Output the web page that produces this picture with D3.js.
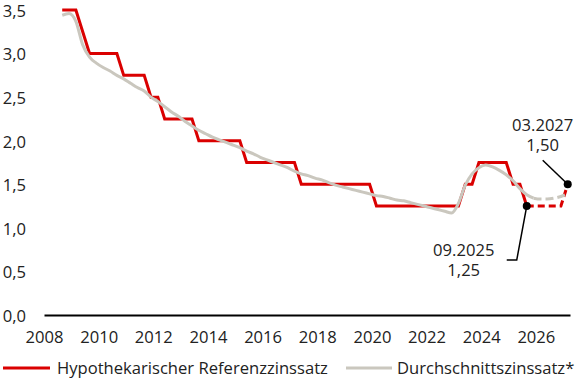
<!DOCTYPE html>
<html><head><meta charset="utf-8">
<script src="https://cdn.jsdelivr.net/npm/d3@7"></script>
<style>
html,body{margin:0;padding:0;background:#fff;}
svg{display:block;font-family:"Open Sans",sans-serif;}
</style></head><body>
<svg id="chart" width="580" height="380"></svg>
<script>
const quarters = [
  "2008-09","2008-12",
  "2009-03","2009-06","2009-09","2009-12",
  "2010-03","2010-06","2010-09","2010-12",
  "2011-03","2011-06","2011-09","2011-12",
  "2012-03","2012-06","2012-09","2012-12",
  "2013-03","2013-06","2013-09","2013-12",
  "2014-03","2014-06","2014-09","2014-12",
  "2015-03","2015-06","2015-09","2015-12",
  "2016-03","2016-06","2016-09","2016-12",
  "2017-03","2017-06","2017-09","2017-12",
  "2018-03","2018-06","2018-09","2018-12",
  "2019-03","2019-06","2019-09","2019-12",
  "2020-03","2020-06","2020-09","2020-12",
  "2021-03","2021-06","2021-09","2021-12",
  "2022-03","2022-06","2022-09","2022-12",
  "2023-03","2023-06","2023-09","2023-12",
  "2024-03","2024-06","2024-09","2024-12",
  "2025-03","2025-06","2025-09","2025-12",
  "2026-03","2026-06","2026-09","2026-12",
  "2027-03"
];
// Hypothekarischer Referenzzinssatz (%)
const refRate = [
  3.50, 3.50,
  3.50, 3.25, 3.00, 3.00,
  3.00, 3.00, 3.00, 2.75,
  2.75, 2.75, 2.75, 2.50,
  2.50, 2.25, 2.25, 2.25,
  2.25, 2.25, 2.00, 2.00,
  2.00, 2.00, 2.00, 2.00,
  2.00, 1.75, 1.75, 1.75,
  1.75, 1.75, 1.75, 1.75,
  1.75, 1.50, 1.50, 1.50,
  1.50, 1.50, 1.50, 1.50,
  1.50, 1.50, 1.50, 1.50,
  1.25, 1.25, 1.25, 1.25,
  1.25, 1.25, 1.25, 1.25,
  1.25, 1.25, 1.25, 1.25,
  1.25, 1.50, 1.50, 1.75,
  1.75, 1.75, 1.75, 1.75,
  1.50, 1.50, 1.25, 1.25,
  1.25, 1.25, 1.25, 1.25,
  1.50
];
// Durchschnittszinssatz* (%)
const avgRate = [
  3.44, 3.46,
  3.37, 3.10, 2.96, 2.89,
  2.84, 2.80, 2.75, 2.71,
  2.66, 2.61, 2.57, 2.50,
  2.45, 2.39, 2.33, 2.28,
  2.22, 2.17, 2.12, 2.08,
  2.04, 2.01, 1.98, 1.95,
  1.92, 1.88, 1.85, 1.81,
  1.78, 1.75, 1.72, 1.69,
  1.65, 1.62, 1.60, 1.57,
  1.55, 1.52, 1.49, 1.47,
  1.45, 1.43, 1.41, 1.39,
  1.37, 1.36, 1.34, 1.32,
  1.31, 1.29, 1.27, 1.25,
  1.23, 1.21, 1.19, 1.17,
  1.28, 1.49, 1.62, 1.69,
  1.72, 1.70, 1.66, 1.61,
  1.54, 1.45, 1.38, 1.34,
  1.33, 1.33, 1.34, 1.36,
  1.39
];
const refForecastFrom = "2025-09";
const avgForecastFrom = "2025-12";
const yTicks = [0, 0.5, 1.0, 1.5, 2.0, 2.5, 3.0, 3.5];
const xTicks = [2008, 2010, 2012, 2014, 2016, 2018, 2020, 2022, 2024, 2026];
const annotations = [
  {date: "2025-09", value: 1.25, lines: ["09.2025", "1,25"]},
  {date: "2027-03", value: 1.50, lines: ["03.2027", "1,50"]}
];
const legendLabels = ["Hypothekarischer Referenzzinssatz", "Durchschnittszinssatz*"];

const RED = "#da0000", GREY = "#cac7be", TEXT = "#222";
const FS = 16.6;
const toYear = s => { const [yy, mm] = s.split("-").map(Number); return yy + (mm - 1) / 12; };
const locale = d3.formatLocale({decimal: ",", thousands: "'", grouping: [3], currency: ["", ""]});
const fmt = locale.format(".1f");

const svg = d3.select("#chart");
const x = d3.scaleLinear().domain([2008, 2027.25]).range([44, 570]);
const y = d3.scaleLinear().domain([0, 3.5]).range([315, 10]);

// axes
const yAxis = svg.append("g").attr("transform", "translate(26,1)")
  .call(d3.axisLeft(y).tickValues(yTicks).tickFormat(fmt).tickSize(0).tickPadding(0));
yAxis.select(".domain").remove();
yAxis.selectAll("text").attr("font-size", FS).attr("fill", TEXT).attr("font-family", '"Open Sans",sans-serif');

const xAxis = svg.append("g").attr("transform", "translate(0,315)")
  .call(d3.axisBottom(x).tickValues(xTicks).tickFormat(d3.format("d")).tickSize(0).tickSizeOuter(0).tickPadding(16));
xAxis.select(".domain").attr("stroke", "#000").attr("stroke-width", 2);
xAxis.selectAll("text").attr("font-size", FS).attr("fill", TEXT).attr("font-family", '"Open Sans",sans-serif');

const data = quarters.map((q, i) => ({q, t: toYear(q), ref: refRate[i], avg: avgRate[i]}));
const refCut = quarters.indexOf(refForecastFrom);
const avgCut = quarters.indexOf(avgForecastFrom);

const lineRef = d3.line().x(d => x(d.t)).y(d => y(d.ref));
const lineAvg = d3.line().x(d => x(d.t)).y(d => y(d.avg)).curve(d3.curveMonotoneX);

svg.append("path").attr("d", lineRef(data.slice(0, refCut + 1)))
  .attr("fill", "none").attr("stroke", RED).attr("stroke-width", 3).attr("stroke-linejoin", "miter");
svg.append("path").attr("d", lineRef(data.slice(refCut)))
  .attr("fill", "none").attr("stroke", RED).attr("stroke-width", 3).attr("stroke-dasharray", "7,4");

svg.append("path").attr("d", lineAvg(data.slice(0, avgCut + 1)))
  .attr("fill", "none").attr("stroke", GREY).attr("stroke-width", 3);
svg.append("path").attr("d", lineAvg(data.slice(avgCut)))
  .attr("fill", "none").attr("stroke", GREY).attr("stroke-width", 3).attr("stroke-dasharray", "8,4");

// annotations (each a single two-line text element)
annotations.forEach((a, i) => {
  const px = x(toYear(a.date)), py = y(a.value);
  const g = svg.append("g");
  let tx, ty;
  if (i === 0) {
    g.append("polyline").attr("points", `${px},${py} ${px - 10},${py + 54} ${px - 20},${py + 54}`)
      .attr("fill", "none").attr("stroke", "#000").attr("stroke-width", 1.5);
    tx = px - 63; ty = py + 50;
  } else {
    g.append("line").attr("x1", px - 25).attr("y1", py - 24).attr("x2", px).attr("y2", py)
      .attr("stroke", "#000").attr("stroke-width", 1.5);
    tx = px - 25; ty = py - 53;
  }
  const t = g.append("text").attr("x", tx).attr("y", ty)
    .attr("text-anchor", "middle").attr("font-size", FS).attr("fill", TEXT);
  a.lines.forEach((l, k) => t.append("tspan").attr("x", tx).attr("dy", k === 0 ? 0 : 20).text(l));
  g.append("circle").attr("cx", px).attr("cy", py).attr("r", 4).attr("fill", "#000");
});

// legend
const leg = svg.append("g");
leg.append("line").attr("x1", 3).attr("x2", 50).attr("y1", 368).attr("y2", 368).attr("stroke", RED).attr("stroke-width", 3);
leg.append("text").attr("x", 57).attr("y", 374).attr("font-size", FS).attr("fill", TEXT).text(legendLabels[0]);
leg.append("line").attr("x1", 346).attr("x2", 392).attr("y1", 368).attr("y2", 368).attr("stroke", GREY).attr("stroke-width", 3);
leg.append("text").attr("x", 397).attr("y", 374).attr("font-size", FS).attr("fill", TEXT).text(legendLabels[1]);
</script>
</body></html>
